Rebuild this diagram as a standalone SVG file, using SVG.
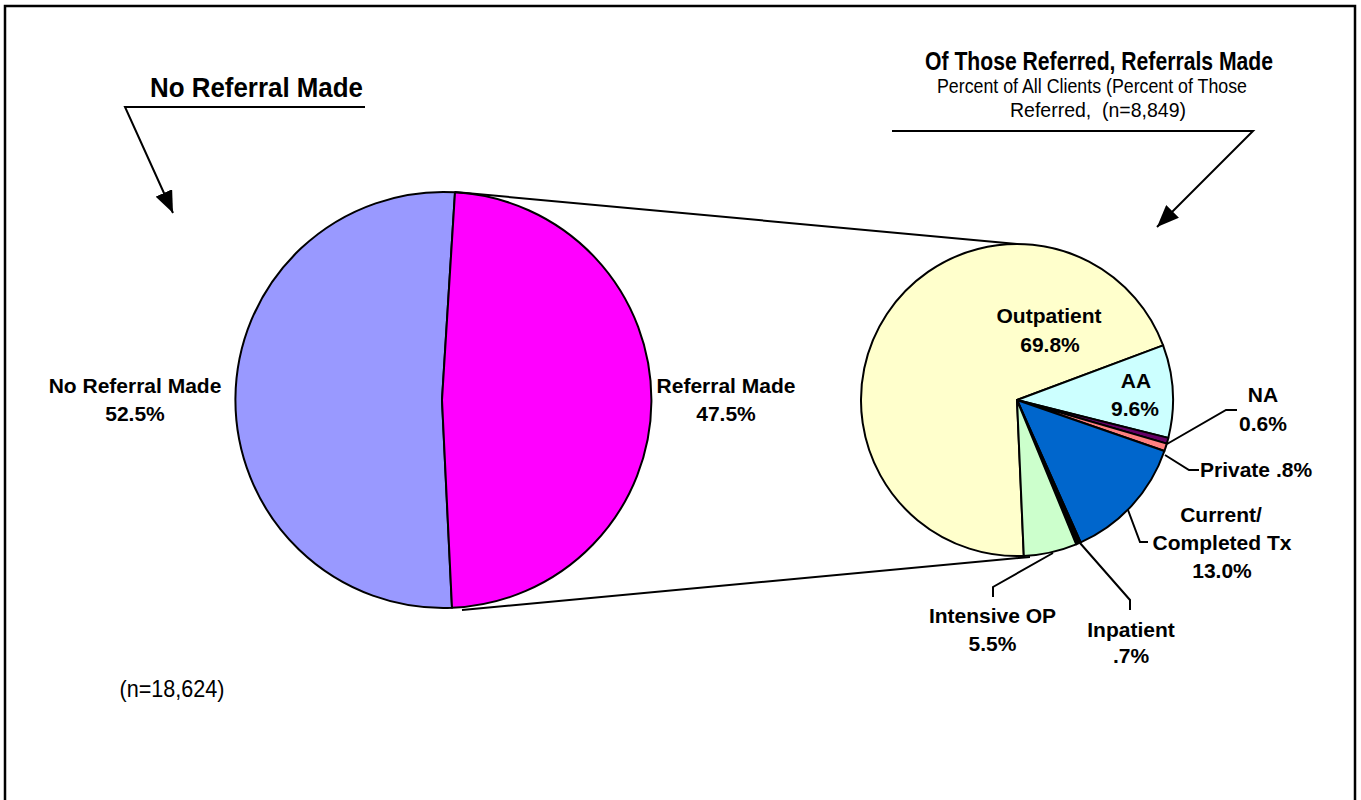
<svg xmlns="http://www.w3.org/2000/svg" width="1361" height="800" viewBox="0 0 1361 800">
<style>
.ttl{font-family:"Liberation Sans Narrow","Liberation Sans",Arial,sans-serif;font-weight:bold;fill:#000}
.sub{font-family:"Liberation Sans Narrow","Liberation Sans",Arial,sans-serif;fill:#000}
.lbl{font-family:"Liberation Sans",Arial,sans-serif;font-weight:bold;font-size:21px;fill:#000;text-anchor:middle}
.slice{stroke:#000;stroke-width:2;stroke-linejoin:round}
.ln{fill:none;stroke:#000;stroke-width:2}
</style>
<defs>
<marker id="ah" markerUnits="userSpaceOnUse" markerWidth="22" markerHeight="18" viewBox="0 0 22 18" refX="22" refY="9" orient="auto">
<path d="M0,0 L22,9 L0,18 Z" fill="#000"/>
</marker>
</defs>
<rect x="5" y="6" width="1350" height="830" fill="#fff" stroke="#000" stroke-width="2.5"/>

<g id="title-left">
<text class="ttl" x="256.5" y="97" font-size="28" text-anchor="middle" textLength="213" lengthAdjust="spacingAndGlyphs">No Referral Made</text>
</g>
<g id="title-right">
<text class="ttl" x="1099" y="70" font-size="26" text-anchor="middle" textLength="348" lengthAdjust="spacingAndGlyphs">Of Those Referred, Referrals Made</text>
<text class="sub" x="1092" y="93" font-size="21" text-anchor="middle" textLength="310" lengthAdjust="spacingAndGlyphs">Percent of All Clients (Percent of Those</text>
<text class="sub" x="1098" y="117" font-size="21" text-anchor="middle" xml:space="preserve" textLength="176" lengthAdjust="spacingAndGlyphs">Referred,  (n=8,849)</text>
</g>

<g id="pie-left">
<path id="slice-no-referral" class="slice" fill="#9999FF" d="M442,400 L452,607.8 A208,208 0 1,1 455,192.3 Z"/>
<path id="slice-referral" class="slice" fill="#FF00FF" d="M442,400 L455,192.3 A208,208 0 0,1 452,607.8 Z"/>
</g>

<g id="pie-right">
<path id="slice-outpatient" class="slice" fill="#FFFFCC" d="M1017,400 L1023.8,555.9 A156,156 0 1,1 1163.1,345.4 Z"/>
<path id="slice-aa" class="slice" fill="#CCFFFF" d="M1017,400 L1163.1,345.4 A156,156 0 0,1 1168.3,437.9 Z"/>
<path id="slice-na" class="slice" fill="#660066" d="M1017,400 L1168.3,437.9 A156,156 0 0,1 1166.8,443.6 Z"/>
<path id="slice-private" class="slice" fill="#FF8080" d="M1017,400 L1166.8,443.6 A156,156 0 0,1 1164.4,451.0 Z"/>
<path id="slice-current" class="slice" fill="#0066CC" d="M1017,400 L1164.4,451.0 A156,156 0 0,1 1080.7,542.4 Z"/>
<path id="slice-inpatient" class="slice" fill="#000000" d="M1017,400 L1080.7,542.4 A156,156 0 0,1 1076.2,544.3 Z"/>
<path id="slice-intensive" class="slice" fill="#CCFFCC" d="M1017,400 L1076.2,544.3 A156,156 0 0,1 1023.8,555.9 Z"/>
</g>

<g id="connectors">
<line class="ln" x1="455" y1="192" x2="1017" y2="244"/>
<line class="ln" x1="462" y1="610" x2="1030" y2="557"/>
<polyline class="ln" points="365,107 125,107 173,213" marker-end="url(#ah)"/>
<polyline class="ln" points="892,131 1253,131 1157,227" marker-end="url(#ah)"/>
<polyline class="ln" points="1167,444 1226,410 1237,410"/>
<polyline class="ln" points="1165,455 1189,470 1199,470"/>
<polyline class="ln" points="1128,510 1140,542 1148,542"/>
<polyline class="ln" points="1053,553 993,587 993,597"/>
<polyline class="ln" points="1080,543 1130,600 1130,610"/>
</g>

<g id="labels">
<g id="label-no-referral"><text class="lbl" x="135" y="393">No Referral Made</text><text class="lbl" x="135" y="421">52.5%</text></g>
<g id="label-referral"><text class="lbl" x="726" y="393">Referral Made</text><text class="lbl" x="726" y="421">47.5%</text></g>
<g id="label-outpatient"><text class="lbl" x="1049" y="323">Outpatient</text><text class="lbl" x="1050" y="352">69.8%</text></g>
<g id="label-aa"><text class="lbl" x="1136" y="388">AA</text><text class="lbl" x="1135" y="416">9.6%</text></g>
<g id="label-na"><text class="lbl" x="1263" y="402">NA</text><text class="lbl" x="1263" y="431">0.6%</text></g>
<g id="label-private"><text class="lbl" x="1200" y="477" text-anchor="start" style="text-anchor:start">Private .8%</text></g>
<g id="label-current"><text class="lbl" x="1221" y="522">Current/</text><text class="lbl" x="1222" y="550">Completed Tx</text><text class="lbl" x="1222" y="578">13.0%</text></g>
<g id="label-intensive"><text class="lbl" x="992.5" y="623">Intensive OP</text><text class="lbl" x="992.5" y="651">5.5%</text></g>
<g id="label-inpatient"><text class="lbl" x="1131" y="637">Inpatient</text><text class="lbl" x="1131" y="663">.7%</text></g>
<text class="sub" x="172" y="697" font-size="24" text-anchor="middle" textLength="105" lengthAdjust="spacingAndGlyphs">(n=18,624)</text>
</g>
</svg>
